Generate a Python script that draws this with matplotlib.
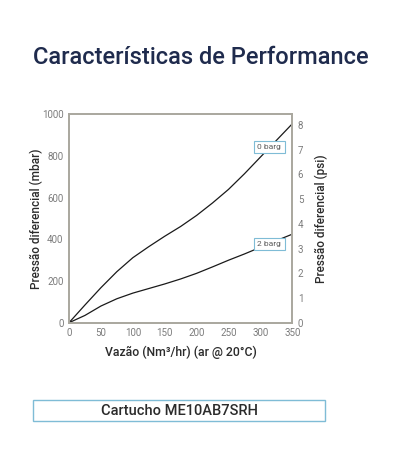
import matplotlib
matplotlib.use("Agg")
import matplotlib.pyplot as plt
from matplotlib.patches import Rectangle

# Flow (Nm3/hr) and differential pressure (mbar)
flow = [0, 25, 50, 75, 100, 125, 150, 175, 200, 225, 250, 275, 300, 325, 350]
p_0barg = [0, 85, 168, 245, 312, 365, 415, 462, 515, 575, 640, 715, 795, 875, 955]
p_2barg = [0, 35, 80, 115, 142, 164, 186, 210, 237, 268, 300, 330, 362, 394, 425]

curve_labels = ["0 barg", "2 barg"]
label_pos = [(314, 843), (314, 378)]

x_ticks = [0, 50, 100, 150, 200, 250, 300, 350]
y_ticks = [0, 200, 400, 600, 800, 1000]
psi_ticks = [0, 1, 2, 3, 4, 5, 6, 7, 8]

plt.rcParams["font.family"] = ["Roboto", "DejaVu Sans"]

spine_col = "#a9a79e"
tick_col = "#7c7c7c"
text_col = "#2b2b2b"

fig = plt.figure(figsize=(3.97, 4.65), dpi=100)
ax = fig.add_axes([0.1738, 0.306, 0.5625, 0.448])

ax.plot(flow, p_0barg, color="#1a1a1a", lw=0.9)
ax.plot(flow, p_2barg, color="#1a1a1a", lw=0.9)

for lab, (lx, ly) in zip(curve_labels, label_pos):
    ax.text(lx, ly, lab, fontsize=6, color="#5a5a5a", ha="center", va="center",
            bbox=dict(boxstyle="square,pad=0.4", fc="white", ec="#7fbcd6", lw=0.8),
            zorder=5)

ax.set_xlim(0, 350)
ax.set_ylim(0, 1000)
ax.set_xticks(x_ticks)
ax.set_yticks(y_ticks)
ax.tick_params(length=0, labelsize=7, colors=tick_col, pad=4)
for s in ax.spines.values():
    s.set_color(spine_col)
    s.set_linewidth(1.2)

ax2 = ax.twinx()
ax2.set_ylim(0, 8 * 1000 / 949)
ax2.set_yticks(psi_ticks)
ax2.tick_params(length=0, labelsize=7, colors=tick_col, pad=4)
for s in ax2.spines.values():
    s.set_color(spine_col)
    s.set_linewidth(1.2)

ax.set_xlabel("Vazão (Nm³/hr) (ar @ 20°C)", fontsize=8.8, color=text_col,
              fontweight="medium", labelpad=5)
ax.set_ylabel("Pressão diferencial (mbar)", fontsize=8.5, color=text_col,
              fontweight="medium", labelpad=-1)
ax2.set_ylabel("Pressão diferencial (psi)", fontsize=8.5, color=text_col,
               fontweight="medium", labelpad=8)

fig.text(0.506, 0.877, "Características de Performance", fontsize=17,
         color="#1f2b4d", ha="center", va="center", fontweight="medium")

fig.patches.append(Rectangle((0.083, 0.0946), 0.7355, 0.045, transform=fig.transFigure,
                             fill=False, edgecolor="#7fbcd6", lw=1.0))
fig.text(0.451, 0.117, "Cartucho ME10AB7SRH", fontsize=10.5, color=text_col,
         ha="center", va="center", fontweight="medium")

fig.savefig("out.png", dpi=100)
